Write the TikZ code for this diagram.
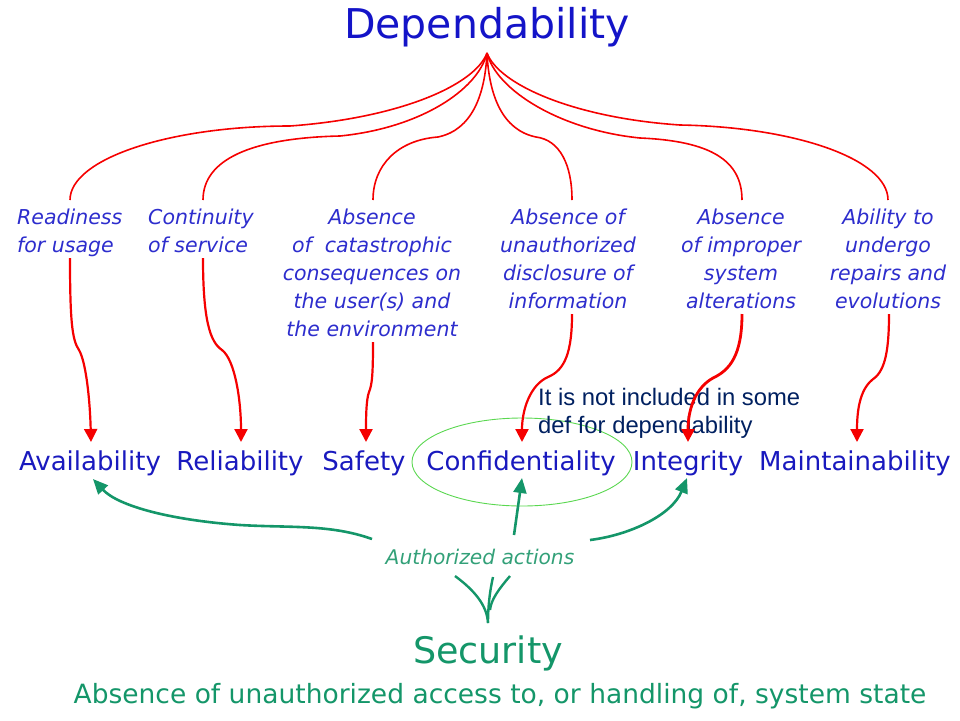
\documentclass[tikz,border=0pt]{standalone}
\usepackage{fontspec}
\setmainfont{DejaVu Sans}
\newfontfamily\notefont{Liberation Sans}
\usetikzlibrary{arrows.meta,shapes.geometric}
\definecolor{depblue}{RGB}{20,20,200}
\definecolor{labblue}{RGB}{45,45,205}
\definecolor{rowblue}{RGB}{25,25,190}
\definecolor{notenavy}{RGB}{0,32,96}
\definecolor{redline}{RGB}{245,0,0}
\definecolor{secgreen}{RGB}{20,150,105}
\definecolor{actgreen}{RGB}{50,160,120}
\definecolor{ellgreen}{RGB}{90,215,80}
\begin{document}
\begin{tikzpicture}[x=1pt,y=-1pt,
  redcurve/.style={draw=redline,line width=1.6pt},
  redarrow/.style={draw=redline,line width=2.2pt,-{Triangle[width=13pt,length=13pt]}},
  greenarrow/.style={draw=secgreen,line width=2.6pt,-{Triangle[width=13pt,length=15pt]}},
  forkline/.style={draw=secgreen,line width=2.4pt},
  labtext/.style={inner sep=0pt,text=labblue,font=\fontsize{20.5}{28}\selectfont\itshape},
  rowtext/.style={inner sep=0pt,anchor=base,text=rowblue,font=\fontsize{26}{30}\selectfont}
]
\useasboundingbox (0,0) rectangle (960,720);
% title
\node[inner sep=0pt,anchor=base,text=depblue,font=\fontsize{41}{46}\selectfont] (dep) at (487,38) {Dependability};
\coordinate (root) at (487,53);
% attribute descriptions (anchor = baseline of last line)
\node[labtext,anchor=base west,align=left] (lready) at (17,252) {Readiness\\for usage};
\node[labtext,anchor=base west,align=left] (lcont) at (148,252) {Continuity\\of service};
\node[labtext,anchor=base,align=center] (lsafe) at (372,336) {Absence\\of~ catastrophic\\consequences on\\the user(s) and\\the environment};
\node[labtext,anchor=base,align=center] (lconf) at (568,308) {Absence of\\unauthorized\\disclosure of\\information};
\node[labtext,anchor=base,align=center] (linteg) at (741,308) {Absence\\of improper\\system\\alterations};
\node[labtext,anchor=base,align=center] (lmaint) at (888,308) {Ability to\\undergo\\repairs and\\evolutions};
% attributes row
\node[rowtext] (avail) at (90,470) {Availability};
\node[rowtext] (rel) at (240,470) {Reliability};
\node[rowtext] (safe) at (364,470) {Safety};
\node[rowtext] (conf) at (521,470) {Confidentiality};
\node[rowtext] (integ) at (688,470) {Integrity};
\node[rowtext] (maint) at (855,470) {Maintainability};
% ellipse around confidentiality
\node[draw=ellgreen,line width=0.9pt,ellipse,minimum width=220pt,minimum height=88pt,inner sep=0pt] (ring) at (522,462) {};
% note
\node[inner sep=0pt,anchor=base west,align=left,text=notenavy,font=\notefont\fontsize{23.8}{28}\selectfont] (note) at (538,433) {It is not included in some\\def for dependability};
% top curve end points
\coordinate (t1) at (70,200);
\coordinate (t2) at (203,200);
\coordinate (t3) at (373,200);
\coordinate (t4) at (572,200);
\coordinate (t5) at (742,200);
\coordinate (t6) at (888,200);
\coordinate (m1) at (290,126);
\coordinate (m2) at (340,136);
\coordinate (m3) at (438,137);
\coordinate (m4) at (536,137);
\coordinate (m5) at (640,138);
\coordinate (m6) at (680,125);
\draw[redcurve] (root) .. controls (475,85) and (400,118) .. (m1) .. controls (169,126) and (70,159) .. (t1);
\draw[redcurve] (root) .. controls (478,90) and (420,128) .. (m2) .. controls (250,138) and (203,160) .. (t2);
\draw[redcurve] (root) .. controls (485,95) and (472,130) .. (m3) .. controls (398,140) and (373,165) .. (t3);
\draw[redcurve] (root) .. controls (489,95) and (502,130) .. (m4) .. controls (560,140) and (572,165) .. (t4);
\draw[redcurve] (root) .. controls (496,90) and (560,130) .. (m5) .. controls (710,141) and (742,160) .. (t5);
\draw[redcurve] (root) .. controls (499,85) and (575,118) .. (m6) .. controls (795,127) and (888,159) .. (t6);
% red arrows down
\coordinate (s1) at (70,258);   \coordinate (k1) at (79,350);  \coordinate (e1) at (91,442);
\coordinate (s2) at (203,258);  \coordinate (k2) at (222,350); \coordinate (e2) at (241,442);
\coordinate (s3) at (373,342);  \coordinate (k3) at (369,392); \coordinate (e3) at (366,442);
\coordinate (s4) at (572,314);  \coordinate (k4) at (548,377); \coordinate (e4) at (522,442);
\coordinate (s5) at (742,314);  \coordinate (k5) at (713,378); \coordinate (e5) at (688,442);
\coordinate (s6) at (889,314);  \coordinate (k6) at (872,380); \coordinate (e6) at (857,442);
\draw[redarrow] (s1) .. controls (70,320) and (72,340) .. (k1) .. controls (86,362) and (90,400) .. (e1);
\draw[redarrow] (s2) .. controls (203,320) and (210,342) .. (k2) .. controls (235,360) and (241,400) .. (e2);
\draw[redarrow] (s3) .. controls (373,375) and (372,385) .. (k3) .. controls (366,400) and (366,420) .. (e3);
\draw[redarrow] (s4) .. controls (572,352) and (565,370) .. (k4) .. controls (530,385) and (522,410) .. (e4);
\draw[redarrow,line width=2.8pt] (s5) .. controls (742,355) and (730,370) .. (k5) .. controls (695,388) and (688,410) .. (e5);
\draw[redarrow] (s6) .. controls (889,355) and (884,372) .. (k6) .. controls (860,390) and (857,410) .. (e6);
% authorized actions
\node[inner sep=0pt,anchor=base,text=actgreen,font=\fontsize{20.2}{24}\selectfont\itshape] (act) at (480,564) {Authorized actions};
\coordinate (g1) at (372,539);
\coordinate (g2) at (514,535);
\coordinate (g3) at (590,540);
\coordinate (ga) at (93,479);
\coordinate (gc) at (522,478);
\coordinate (gi) at (687,478);
\draw[greenarrow] (g1) .. controls (330,524) and (290,528) .. (240,525) .. controls (170,520) and (118,506) .. (ga);
\draw[greenarrow] (g2) -- (gc);
\draw[greenarrow] (g3) .. controls (630,535) and (672,515) .. (gi);
% fork
\coordinate (fb) at (488,623);
\coordinate (fl) at (455,576);
\coordinate (fm) at (493,577);
\coordinate (fr) at (510,576);
\draw[forkline] (fl) .. controls (474,590) and (487,605) .. (fb);
\draw[forkline] (fm) .. controls (489,595) and (488,610) .. (fb);
\draw[forkline] (fr) .. controls (498,590) and (491,600) .. (490,610);
% security
\node[inner sep=0pt,anchor=base,text=secgreen,font=\fontsize{36.5}{40}\selectfont] (sec) at (488,663) {Security};
\node[inner sep=0pt,anchor=base,text=secgreen,font=\fontsize{26.5}{30}\selectfont] (secdef) at (500,703) {Absence of unauthorized access to, or handling of, system state};
\end{tikzpicture}
\end{document}
